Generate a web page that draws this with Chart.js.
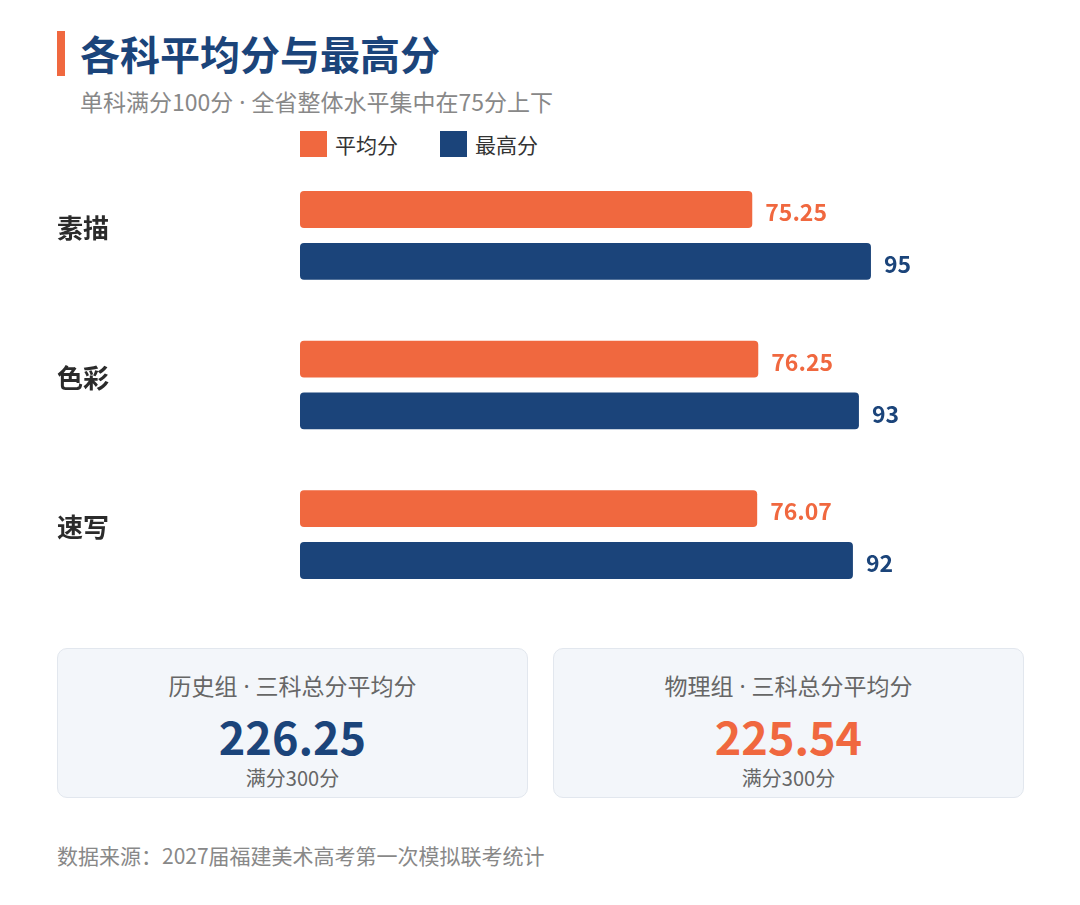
<!DOCTYPE html>
<html lang="zh-CN">
<head>
<meta charset="utf-8">
<title>各科平均分与最高分</title>
<script src="https://cdn.jsdelivr.net/npm/chart.js@4"></script>
<style>
  html, body { margin: 0; padding: 0; background: #fff; }
  body { width: 1080px; height: 905px; position: relative; overflow: hidden;
         font-family: "Noto Sans CJK SC", "Noto Sans", sans-serif; }
  .dot { font-family: "Noto Sans", sans-serif; }
  .title-bar { position: absolute; left: 57px; top: 31px; width: 8px; height: 45px; background: #f0683f; }
  .title { position: absolute; left: 80px; top: 26px; font-size: 40px; line-height: 54px;
           font-weight: 700; color: #1b447a; }
  .subtitle { position: absolute; left: 80px; top: 86px; font-size: 23px; line-height: 30px; color: #888; }
  .legend { position: absolute; left: 300px; top: 131px; height: 26px; display: flex; }
  .legend-item { display: flex; align-items: center; margin-right: 42px; font-size: 21px; color: #333; }
  .legend-box { width: 27px; height: 26px; margin-right: 8px; }
  #chartWrap { position: absolute; left: 57px; top: 145px; width: 967px; height: 480px; }
  .card { position: absolute; top: 648px; width: 469px; height: 148px; background: #f3f6fa;
          border: 1px solid #e2e7ee; border-radius: 10px; text-align: center; }
  .card-title { position: absolute; left: 0; right: 0; top: 21px; font-size: 23px; line-height: 30px; color: #666; }
  .card-value { position: absolute; left: 0; right: 0; top: 57px; font-size: 45px; line-height: 60px; font-weight: 700; }
  .card-note { position: absolute; left: 0; right: 0; top: 116px; font-size: 20px; line-height: 26px; color: #666; }
  .footer { position: absolute; left: 57px; top: 840px; font-size: 21px; line-height: 30px; color: #888; }
</style>
</head>
<body>
<div class="title-bar"></div>
<div class="title">各科平均分与最高分</div>
<div class="subtitle">单科满分100分<span class="dot"> · </span>全省整体水平集中在75分上下</div>
<div class="legend" id="legend"></div>
<div id="chartWrap"><canvas id="scoreChart"></canvas></div>
<div id="cards"></div>
<div class="footer">数据来源：2027届福建美术高考第一次模拟联考统计</div>

<script>
// 数据
const categories = ['素描', '色彩', '速写'];
const seriesNames = ['平均分', '最高分'];
const avgScores = [75.25, 76.25, 76.07];
const maxScores = [95, 93, 92];
const seriesColors = ['#f0683f', '#1b447a'];

const groupNames = ['历史组', '物理组'];
const groupCaption = '三科总分平均分';
const groupTotals = ['226.25', '225.54'];
const groupColors = ['#1b447a', '#f0683f'];
const fullMark = '满分300分';

// 图例
const legendEl = document.getElementById('legend');
seriesNames.forEach(function(name, i) {
  const item = document.createElement('div');
  item.className = 'legend-item';
  item.innerHTML = '<span class="legend-box" style="background:' + seriesColors[i] + '"></span>' + name;
  legendEl.appendChild(item);
});

// 总分卡片
const cardsEl = document.getElementById('cards');
groupNames.forEach(function(name, i) {
  const card = document.createElement('div');
  card.className = 'card';
  card.style.left = (57 + i * 496) + 'px';
  card.innerHTML =
    '<div class="card-title">' + name + '<span class="dot"> · </span>' + groupCaption + '</div>' +
    '<div class="card-value" style="color:' + groupColors[i] + '">' + groupTotals[i] + '</div>' +
    '<div class="card-note">' + fullMark + '</div>';
  cardsEl.appendChild(card);
});

// 柱末数值
const valueLabels = {
  id: 'valueLabels',
  afterDatasetsDraw(chart) {
    const ctx = chart.ctx;
    ctx.save();
    ctx.font = 'bold 23px "Noto Sans CJK SC", sans-serif';
    ctx.textAlign = 'left';
    ctx.textBaseline = 'middle';
    chart.data.datasets.forEach(function(ds, di) {
      const meta = chart.getDatasetMeta(di);
      ctx.fillStyle = ds.backgroundColor;
      meta.data.forEach(function(bar, i) {
        ctx.fillText(String(ds.data[i]), bar.x + 13, bar.y + 3);
      });
    });
    ctx.restore();
  }
};

new Chart(document.getElementById('scoreChart'), {
  type: 'bar',
  data: {
    labels: categories,
    datasets: [
      { label: seriesNames[0], data: avgScores, backgroundColor: seriesColors[0] },
      { label: seriesNames[1], data: maxScores, backgroundColor: seriesColors[1] }
    ]
  },
  options: {
    indexAxis: 'y',
    responsive: true,
    maintainAspectRatio: false,
    animation: false,
    layout: { padding: { left: 0, right: 123, top: 0, bottom: 0 } },
    datasets: {
      bar: {
        categoryPercentage: 0.693,
        barPercentage: 0.71,
        borderRadius: 4,
        borderSkipped: false
      }
    },
    scales: {
      x: {
        min: 0,
        max: 100,
        display: false,
        grid: { display: false }
      },
      y: {
        grid: { display: false },
        border: { display: false },
        afterFit: function(scale) { scale.width = 243; },
        ticks: {
          crossAlign: 'far',
          padding: 0,
          labelOffset: -7,
          color: '#2b2b2b',
          font: { size: 26, weight: 'bold', family: '"Noto Sans CJK SC", sans-serif' }
        }
      }
    },
    plugins: {
      legend: { display: false },
      tooltip: { enabled: false }
    }
  },
  plugins: [valueLabels]
});
</script>
</body>
</html>
